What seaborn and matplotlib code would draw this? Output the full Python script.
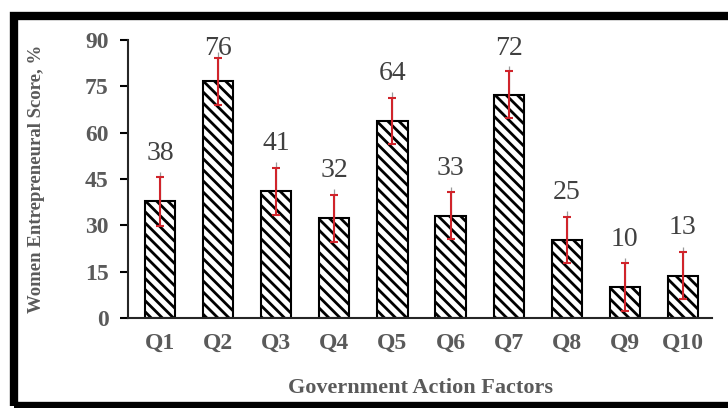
import numpy as np
import pandas as pd
import matplotlib
matplotlib.use("Agg")
import matplotlib.pyplot as plt
from matplotlib.patches import Rectangle
import seaborn as sns

factors = ["Q1", "Q2", "Q3", "Q4", "Q5", "Q6", "Q7", "Q8", "Q9", "Q10"]
scores = [37.7, 76.6, 41.0, 32.2, 63.8, 33.0, 72.2, 25.2, 10.0, 13.6]
errors = [7.8, 7.6, 7.6, 7.6, 7.5, 7.6, 7.6, 7.6, 7.7, 7.6]
labels = ["38", "76", "41", "32", "64", "33", "72", "25", "10", "13"]

df = pd.DataFrame({"factor": factors, "score": scores})

sns.set_style("white")
plt.rcParams["font.family"] = ["Liberation Serif", "DejaVu Serif"]
plt.rcParams["hatch.linewidth"] = 2.0
grey = "#5a5a5a"

fig = plt.figure(figsize=(7.28, 4.08), dpi=100)
ax = fig.add_axes([0.176, 0.221, 0.802, 0.681])

sns.barplot(data=df, x="factor", y="score", color="white", edgecolor="black",
            linewidth=1.5, width=0.52, ax=ax)
for p in ax.patches:
    p.set_hatch("\\\\\\")
    p.set_facecolor("white")

x = np.arange(len(factors))
# thin grey stub above the caps
ax.errorbar(x, scores, yerr=[[0] * len(x), [e + 1.8 for e in errors]],
            fmt="none", ecolor="#9a9a9a", elinewidth=0.9, capsize=0, zorder=3)
ax.errorbar(x, scores, yerr=errors, fmt="none", ecolor="#d0242b",
            elinewidth=1.5, capsize=3, capthick=1.5, zorder=4)

for xi, v, t in zip(x, scores, labels):
    ax.text(xi, min(v + 15.5, 87.4), t, ha="center", va="center",
            fontsize=20, color="#404040")

ax.set_ylim(0, 90)
ax.set_xlim(-0.55, 9.5)
ax.set_yticks(np.arange(0, 91, 15))
ax.tick_params(axis="y", direction="out", length=6, width=1.5, color="black",
               labelsize=17, labelcolor=grey, pad=8, left=True)
ax.tick_params(axis="x", length=0, labelsize=17, labelcolor=grey, pad=11)
for lab in ax.get_xticklabels() + ax.get_yticklabels():
    lab.set_fontweight("bold")

sns.despine(ax=ax)
ax.spines["left"].set_linewidth(1.5)
ax.spines["bottom"].set_linewidth(1.5)

ax.set_xlabel("Government Action Factors", fontsize=16, fontweight="bold",
              color=grey)
ax.xaxis.set_label_coords(0.5, -0.215)
ax.set_ylabel("Women Entrepreneural Score, %", fontsize=13.5, fontweight="bold",
              color=grey)
ax.yaxis.set_label_coords(-0.143, 0.5)

# outer frame
fig.patches.append(Rectangle((14 / 728, 2.5 / 408), 730 / 728, 390 / 408,
                             transform=fig.transFigure, fill=False,
                             edgecolor="black", linewidth=6, zorder=10))

fig.savefig("out.png", dpi=100)
